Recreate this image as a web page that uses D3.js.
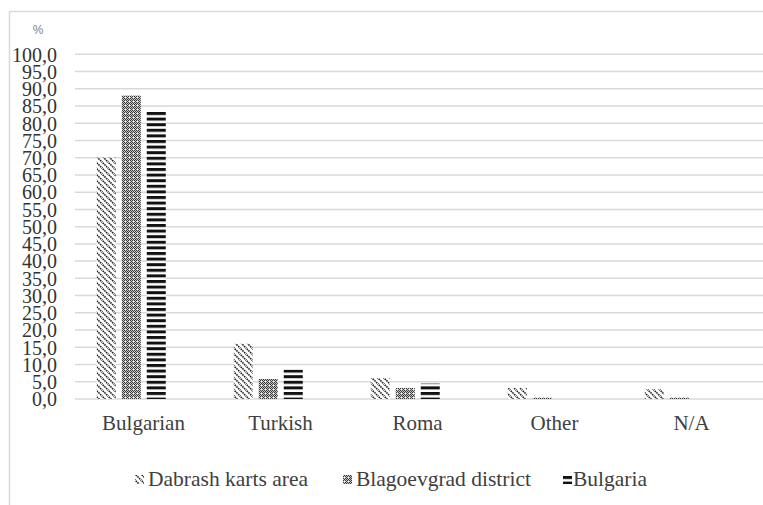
<!DOCTYPE html>
<html><head><meta charset="utf-8">
<script src="https://cdn.jsdelivr.net/npm/d3@7"></script>
<style>body{margin:0;background:#fff}svg{display:block}
.serif{font-family:"Liberation Serif","DejaVu Serif","Noto Serif",serif !important}
</style>
</head><body>
<svg id="c" width="763" height="505"></svg>
<script>
const categories = ["Bulgarian", "Turkish", "Roma", "Other", "N/A"];
const seriesNames = ["Dabrash karts area", "Blagoevgrad district", "Bulgaria"];
const dabrash = [70.0, 16.0, 6.1, 3.2, 2.9];
const blagoevgrad = [88.0, 5.8, 3.2, 0.4, 0.4];
const bulgaria = [83.8, 8.5, 4.5, 0, 0];
const yTicks = [0,5,10,15,20,25,30,35,40,45,50,55,60,65,70,75,80,85,90,95,100];
const seriesValues = [dabrash, blagoevgrad, bulgaria];
const patternIds = ["pDiag", "pCheck", "pStripe"];

const svg = d3.select("#c");
const defs = svg.append("defs");

// diagonal hatch
const pd = defs.append("pattern").attr("id","pDiag").attr("patternUnits","userSpaceOnUse")
  .attr("width",6).attr("height",6);
pd.append("rect").attr("width",6).attr("height",6).attr("fill","#fff");
pd.append("path").attr("d","M-1,-1 L7,7 M-4,2 L2,8 M4,-2 L8,2")
  .attr("stroke","#222").attr("stroke-width",1.6).attr("stroke-dasharray","1.6,0.8");
// checker
const pc = defs.append("pattern").attr("id","pCheck").attr("patternUnits","userSpaceOnUse")
  .attr("width",4).attr("height",4);
pc.append("rect").attr("width",4).attr("height",4).attr("fill","#c8c8c8");
[[0,0],[2,0],[1,1],[3,1],[0,2],[2,2],[1,3],[3,3]].forEach(([x,y])=>
  pc.append("rect").attr("x",x).attr("y",y).attr("width",1).attr("height",1).attr("fill","#3a3a3a"));
pc.append("rect").attr("x",1).attr("y",1).attr("width",1).attr("height",1).attr("fill","#fff");
// horizontal stripes
const ps = defs.append("pattern").attr("id","pStripe").attr("patternUnits","userSpaceOnUse")
  .attr("width",6).attr("height",5.6);
ps.append("rect").attr("width",6).attr("height",5.6).attr("fill","#fff");
ps.append("rect").attr("y",0).attr("width",6).attr("height",3).attr("fill","#111");

// border
svg.append("rect").attr("x",9.5).attr("y",11.5).attr("width",900).attr("height",700)
  .attr("fill","none").attr("stroke","#d9d9d9").attr("stroke-width",1.5);

const y = d3.scaleLinear().domain([0,100]).range([399,54.3]);
const x0 = d3.scaleBand().domain(categories).range([75,760]).paddingInner(0).paddingOuter(0);
const x1 = d3.scaleBand().domain(seriesNames).range([0,x0.bandwidth()])
  .paddingInner(0.24).paddingOuter(1.36).align(0.32);

// gridlines
svg.append("g").selectAll("line").data(yTicks).join("line")
  .attr("x1",75).attr("x2",763).attr("y1",d=>y(d)).attr("y2",d=>y(d))
  .attr("stroke","#d9d9d9").attr("stroke-width",1.5);

// y axis labels
const yAxis = d3.axisLeft(y).tickValues(yTicks).tickSize(0).tickPadding(0)
  .tickFormat(d=>d3.format(".1f")(d).replace(".",","));
const ya = svg.append("g").attr("transform","translate(57,0)").call(yAxis);
ya.select(".domain").remove();
ya.attr("font-size",null).attr("font-family",null);
ya.selectAll("text").attr("class","serif").style("font-size","20px")
  .attr("fill","#333").attr("dy","0.34em");

svg.append("text").attr("x",38).attr("y",34).attr("text-anchor","middle")
  .style("font-family","'Liberation Sans', Arial, sans-serif").style("font-size","12px").attr("fill","#7f7f7f").text("%");

// bars
seriesNames.forEach((s,si)=>{
  svg.append("g").selectAll("rect").data(categories).join("rect")
    .attr("x",c=>x0(c)+x1(s)).attr("width",x1.bandwidth())
    .attr("y",(c,i)=>y(seriesValues[si][i]))
    .attr("height",(c,i)=>y(0)-y(seriesValues[si][i]))
    .attr("fill",`url(#${patternIds[si]})`);
});

// x axis labels
const xAxis = d3.axisBottom(x0).tickSize(0).tickPadding(0);
const xa = svg.append("g").attr("transform","translate(0,423)").call(xAxis);
xa.select(".domain").remove();
xa.attr("font-size",null).attr("font-family",null);
xa.selectAll("text").attr("class","serif").style("font-size","21px")
  .attr("fill","#404040").attr("dy","0.34em");

// legend
const lg = svg.append("g");
const legendX = [135, 343, 563];
seriesNames.forEach((s,i)=>{
  const g = lg.append("g").attr("transform",`translate(${legendX[i]},0)`);
  g.append("rect").attr("x",0).attr("y",475).attr("width",9).attr("height",9)
    .attr("fill",`url(#${patternIds[i]})`);
  g.append("text").attr("class","serif").attr("x",i===2?10:13).attr("y",479).attr("dy","0.34em")
    .style("font-size","21.5px").attr("fill","#404040").text(s);
});
</script>
</body></html>
